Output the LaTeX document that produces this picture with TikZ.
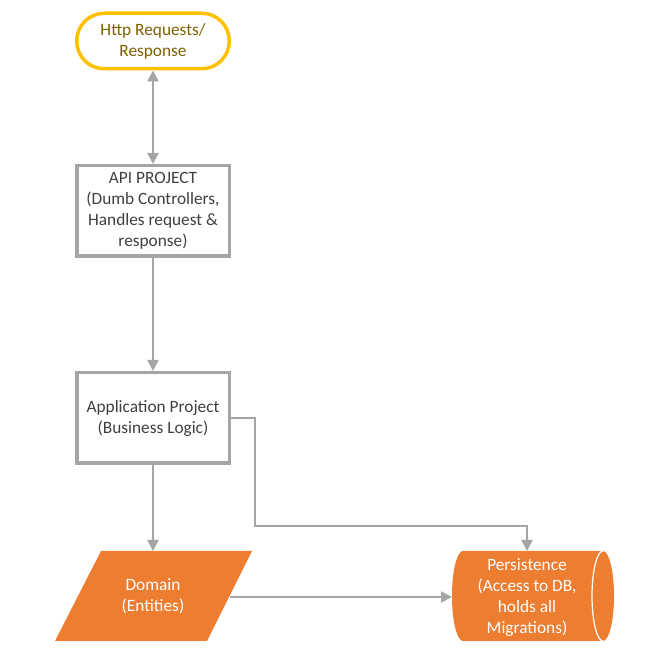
\documentclass[tikz,border=0pt]{standalone}
\usepackage{fontspec}
\setmainfont{Carlito}
\usetikzlibrary{arrows.meta}
\definecolor{orng}{HTML}{ED7D31}
\definecolor{ylw}{HTML}{FFC000}
\definecolor{gry}{HTML}{A5A5A5}
\definecolor{olive}{HTML}{7F6000}
\definecolor{txtg}{HTML}{404040}
\tikzset{
  lbl/.style={align=center, font=\fontsize{17.3}{21}\selectfont},
  boxnode/.style={lbl, draw=gry, line width=3.5pt, fill=white, text=txtg, minimum width=152.5pt, minimum height=90.5pt, inner sep=0pt},
  conn/.style={draw=gry, line width=2.5pt, -{Triangle[width=11pt,length=11pt]}},
  thinconn/.style={draw=gry, line width=2pt, -{Triangle[width=11pt,length=11pt]}},
}
\begin{document}
\begin{tikzpicture}[x=1pt,y=1pt]
\useasboundingbox (0,0) rectangle (651,659);
% nodes
\node[lbl, draw=ylw, line width=3.5pt, fill=white, text=olive, minimum width=152.5pt, minimum height=55.5pt, rounded corners=27.5pt, inner sep=0pt] (http) at (153,618) {Http Requests/\\Response};
\node[boxnode] (api) at (153,448) {API PROJECT\\(Dumb Controllers,\\Handles request \&\\response)};
\node[boxnode] (app) at (153,241) {Application Project\\(Business Logic)};
% domain parallelogram
\fill[orng] (55,18) -- (101,108) -- (252,108) -- (207,18) -- cycle;
\node[lbl, text=white] (domain) at (153,63) {Domain\\(Entities)};
\coordinate (domR) at (230,62);
\coordinate (domT) at (153,108);
% persistence cylinder
\fill[orng] (463,18) -- (603,18) arc[start angle=-90,end angle=90,x radius=11,y radius=45] -- (463,108) arc[start angle=90,end angle=270,x radius=11,y radius=45] -- cycle;
\draw[white, line width=1.2pt] (603,108) arc[start angle=90,end angle=270,x radius=11,y radius=45];
\node[lbl, text=white] (persist) at (527,61) {Persistence\\(Access to DB,\\holds all\\Migrations)};
\coordinate (pL) at (452,62);
\coordinate (pT) at (527,108);
\coordinate (bendA) at (255,241);
\coordinate (bendB) at (255,133);
\coordinate (bendC) at (527,133);
% connectors
\draw[conn, {Triangle[width=11pt,length=11pt]}-{Triangle[width=11pt,length=11pt]}] (http.south) -- (api.north);
\draw[conn] (api.south) -- (app.north);
\draw[conn] (app.south) -- (domT);
\draw[thinconn] (app.east) -- (bendA) -- (bendB) -- (bendC) -- (pT);
\draw[thinconn] (domR) -- (pL);
\end{tikzpicture}
\end{document}
